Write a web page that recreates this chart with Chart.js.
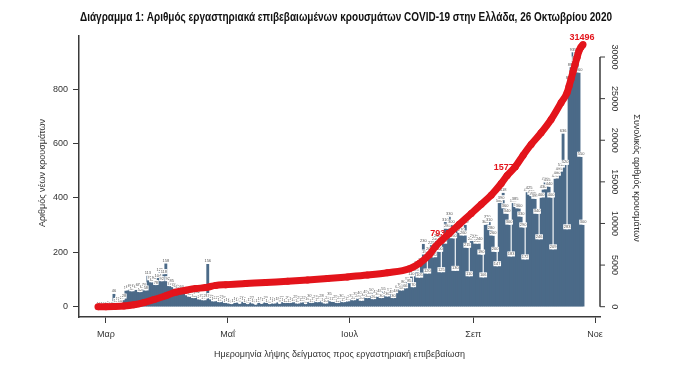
<!DOCTYPE html>
<html>
<head>
<meta charset="utf-8">
<script src="https://cdn.jsdelivr.net/npm/chart.js@4.4.0/dist/chart.umd.min.js"></script>
<style>
html, body { margin: 0; padding: 0; background: #fff; }
</style>
</head>
<body>
<canvas id="myChart" width="693" height="368"></canvas>
<script>
// first day of the daily series
const startDate = '2020-02-26';

// new cases per day (date of sampling), Feb 26 -> Oct 26
const dailyCases = [
  1, 0, 1, 0,
  0, 2, 0, 0, 46, 12, 18, 10, 22, 28, 58, 62, 66, 55, 64, 60, 68, 52, 63, 70, 58, 113, 95, 88, 96, 78, 104, 125, 92, 118, 158,
  92, 74, 85, 70, 64, 62, 55, 60, 48, 52, 40, 35, 45, 30, 38, 42, 25, 30, 22, 28, 156, 30, 25, 18, 20, 22, 15, 25, 20, 12,
  15, 10, 8, 12, 18, 14, 9, 20, 16, 12, 8, 14, 22, 10, 6, 12, 18, 9, 14, 20, 12, 8, 16, 10, 14, 18, 9, 22, 15, 12, 20,
  12, 18, 15, 25, 10, 20, 14, 22, 8, 16, 30, 12, 18, 24, 15, 20, 28, 14, 10, 22, 35, 18, 16, 25, 12, 20, 30, 15, 22, 18,
  25, 30, 22, 35, 28, 40, 20, 32, 45, 30, 38, 50, 26, 42, 35, 48, 30, 55, 40, 36, 52, 45, 30, 48, 62, 70, 58, 80, 66, 90, 85,
  110, 70, 125, 150, 105, 160, 230, 190, 120, 200, 225, 180, 240, 250, 200, 125, 230, 310, 285, 330, 300, 250, 130, 280, 295, 270, 260, 300, 215, 110, 240,
  250, 245, 230, 240, 190, 106, 300, 320, 310, 280, 260, 200, 147, 380, 390, 418, 360, 340, 300, 183, 380, 385, 365, 360, 330, 290, 172, 420, 425, 410,
  405, 395, 340, 246, 400, 430, 460, 455, 440, 400, 209, 470, 480, 495, 510, 636, 520, 283, 830, 880, 935, 900, 920, 860, 550, 300
];

// cumulative cases
const cumDates = [
  '2020-02-26', '2020-03-01', '2020-03-05', '2020-03-10', '2020-03-15', '2020-03-20', '2020-03-25', '2020-03-31',
  '2020-04-05', '2020-04-10', '2020-04-15', '2020-04-20', '2020-04-25', '2020-04-30',
  '2020-05-10', '2020-05-20', '2020-05-31', '2020-06-10', '2020-06-20', '2020-06-30',
  '2020-07-10', '2020-07-20', '2020-07-31', '2020-08-05', '2020-08-10', '2020-08-13', '2020-08-16', '2020-08-20', '2020-08-25', '2020-08-31',
  '2020-09-05', '2020-09-10', '2020-09-15', '2020-09-18', '2020-09-22', '2020-09-26', '2020-09-30',
  '2020-10-05', '2020-10-10', '2020-10-15', '2020-10-18', '2020-10-19', '2020-10-20', '2020-10-21', '2020-10-22',
  '2020-10-23', '2020-10-24', '2020-10-25', '2020-10-26'
];
const cumCases = [
  1, 7, 31, 90, 230, 500, 850, 1320,
  1750, 1980, 2180, 2300, 2560, 2650,
  2780, 2920, 3050, 3200, 3380, 3580,
  3800, 4080, 4560, 5200, 6250, 7200, 7935, 8800, 9900, 11200,
  12300, 13400, 14800, 15773, 16800, 18200, 19500,
  20900, 22500, 24500, 25700, 26500, 27350, 28250, 29100,
  29950, 30750, 31200, 31496
];

// red labels on the cumulative line
const markDates = ['2020-08-16', '2020-09-18', '2020-10-26'];
const markTexts = ['7935', '15773', '31496'];

const monthTicks = ['2020-03-01', '2020-05-01', '2020-07-01', '2020-09-01', '2020-11-01'];
const monthLabels = ['Μαρ', 'Μαΐ', 'Ιουλ', 'Σεπ', 'Νοε'];
const leftTicks = [0, 200, 400, 600, 800];
const rightTicks = [0, 5000, 10000, 15000, 20000, 25000, 30000];

const BLUE = '#4b6a88';
const RED = '#e3141b';
const AXIS = '#3a3a3a';
const FONT = '"Liberation Sans", Arial, sans-serif';
const TITLE = 'Διάγραμμα 1: Αριθμός εργαστηριακά επιβεβαιωμένων κρουσμάτων COVID-19 στην Ελλάδα, 26 Οκτωβρίου 2020';

function dayNum(s) {
  var p = s.split('-');
  return (Date.UTC(+p[0], +p[1] - 1, +p[2]) - Date.UTC(2020, 2, 1)) / 86400000;
}

var d0 = dayNum(startDate);
var barData = dailyCases.map(function (v, i) { return { x: d0 + i, y: v }; });
var lineData = cumDates.map(function (s, i) { return { x: dayNum(s), y: cumCases[i] }; });

var extras = {
  id: 'extras',
  afterDatasetDraw: function (chart, args) {
    if (args.index !== 1) return;
    var ctx = chart.ctx;
    // tiny value labels on top of every bar
    ctx.save();
    ctx.font = '4px ' + FONT;
    ctx.textAlign = 'center';
    ctx.textBaseline = 'bottom';
    args.meta.data.forEach(function (bar, i) {
      var t = String(dailyCases[i]);
      var w = ctx.measureText(t).width;
      ctx.fillStyle = '#fff';
      ctx.fillRect(bar.x - w / 2 - 0.5, bar.y - 5.5, w + 1, 5);
      ctx.fillStyle = '#555';
      ctx.fillText(t, bar.x, bar.y - 1);
    });
    // red labels, drawn before the line so it runs over them
    var xs = chart.scales.x, y2 = chart.scales.y2;
    ctx.font = 'bold 9px ' + FONT;
    ctx.fillStyle = RED;
    markDates.forEach(function (s, k) {
      var v = cumCases[cumDates.indexOf(s)];
      ctx.fillText(markTexts[k], xs.getPixelForValue(dayNum(s)) - 1, y2.getPixelForValue(v) - 3);
    });
    ctx.restore();
  },
  afterDraw: function (chart) {
    var ctx = chart.ctx, ca = chart.chartArea, y2 = chart.scales.y2;
    ctx.save();
    // title, squeezed to the width it has in the original
    ctx.fillStyle = '#111';
    ctx.font = 'bold 12px ' + FONT;
    ctx.textAlign = 'center';
    ctx.textBaseline = 'middle';
    var tw = ctx.measureText(TITLE).width;
    ctx.save();
    ctx.translate(346, 18);
    ctx.scale(532 / tw, 1);
    ctx.fillText(TITLE, 0, 0);
    ctx.restore();

    // right axis: line only over the tick range
    var x0 = ca.right;
    ctx.strokeStyle = AXIS;
    ctx.lineWidth = 1.5;
    ctx.beginPath();
    ctx.moveTo(x0, y2.getPixelForValue(0));
    ctx.lineTo(x0, y2.getPixelForValue(30000));
    ctx.stroke();
    ctx.lineWidth = 1;
    ctx.fillStyle = '#333';
    ctx.font = '9px ' + FONT;
    rightTicks.forEach(function (v) {
      var y = y2.getPixelForValue(v);
      ctx.beginPath();
      ctx.moveTo(x0, y);
      ctx.lineTo(x0 + 5, y);
      ctx.stroke();
      ctx.save();
      ctx.translate(x0 + 14, y);
      ctx.rotate(Math.PI / 2);
      ctx.fillText(String(v), 0, 0);
      ctx.restore();
    });

    // axis titles
    ctx.save();
    ctx.translate(636, 178);
    ctx.rotate(Math.PI / 2);
    ctx.fillText('Συνολικός αριθμός κρουσμάτων', 0, 0);
    ctx.restore();
    ctx.save();
    ctx.translate(43, 173);
    ctx.rotate(-Math.PI / 2);
    ctx.fillText('Αριθμός νέων κρουσμάτων', 0, 0);
    ctx.restore();
    ctx.fillText('Ημερομηνία λήψης δείγματος προς εργαστηριακή επιβεβαίωση', (ca.left + ca.right) / 2, 355);
    ctx.restore();
  }
};

var ctx = document.getElementById('myChart').getContext('2d');
var myChart = new Chart(ctx, {
  data: {
    datasets: [{
      type: 'line',
      label: 'Συνολικός αριθμός κρουσμάτων',
      data: lineData,
      yAxisID: 'y2',
      borderColor: RED,
      backgroundColor: RED,
      borderWidth: 7,
      pointRadius: 3.5,
      pointBorderWidth: 0,
      cubicInterpolationMode: 'monotone',
      order: 0
    }, {
      type: 'bar',
      label: 'Αριθμός νέων κρουσμάτων',
      data: barData,
      yAxisID: 'y',
      backgroundColor: BLUE,
      barThickness: 2.2,
      order: 1
    }]
  },
  options: {
    responsive: false,
    animation: false,
    layout: { padding: { top: 36, left: 0, right: 0, bottom: 0 } },
    plugins: { legend: { display: false }, tooltip: { enabled: false } },
    scales: {
      x: {
        type: 'linear',
        offset: false,
        min: -13.5,
        max: 247.5,
        afterBuildTicks: function (ax) { ax.ticks = monthTicks.map(function (s) { return { value: dayNum(s) }; }); },
        afterFit: function (s) { s.height = 51; },
        ticks: {
          color: '#333',
          font: { family: FONT, size: 9 },
          padding: 6,
          maxRotation: 0,
          callback: function (v, i) { return monthLabels[i]; }
        },
        grid: { display: true, drawOnChartArea: false, offset: false, tickLength: 6, color: AXIS },
        border: { color: AXIS, width: 1.5 }
      },
      y: {
        position: 'left',
        min: -38,
        max: 996,
        afterBuildTicks: function (ax) { ax.ticks = leftTicks.map(function (v) { return { value: v }; }); },
        afterFit: function (s) { s.width = 79; },
        ticks: { color: '#333', font: { family: FONT, size: 9 }, padding: 5 },
        grid: { display: true, drawOnChartArea: false, tickLength: 6, color: AXIS },
        border: { color: AXIS, width: 1.5 }
      },
      y2: {
        position: 'right',
        min: -1238,
        max: 32525,
        afterBuildTicks: function (ax) { ax.ticks = rightTicks.map(function (v) { return { value: v }; }); },
        afterFit: function (s) { s.width = 93; },
        ticks: { display: false },
        grid: { display: false },
        border: { display: false }
      }
    }
  },
  plugins: [extras]
});
</script>
</body>
</html>
